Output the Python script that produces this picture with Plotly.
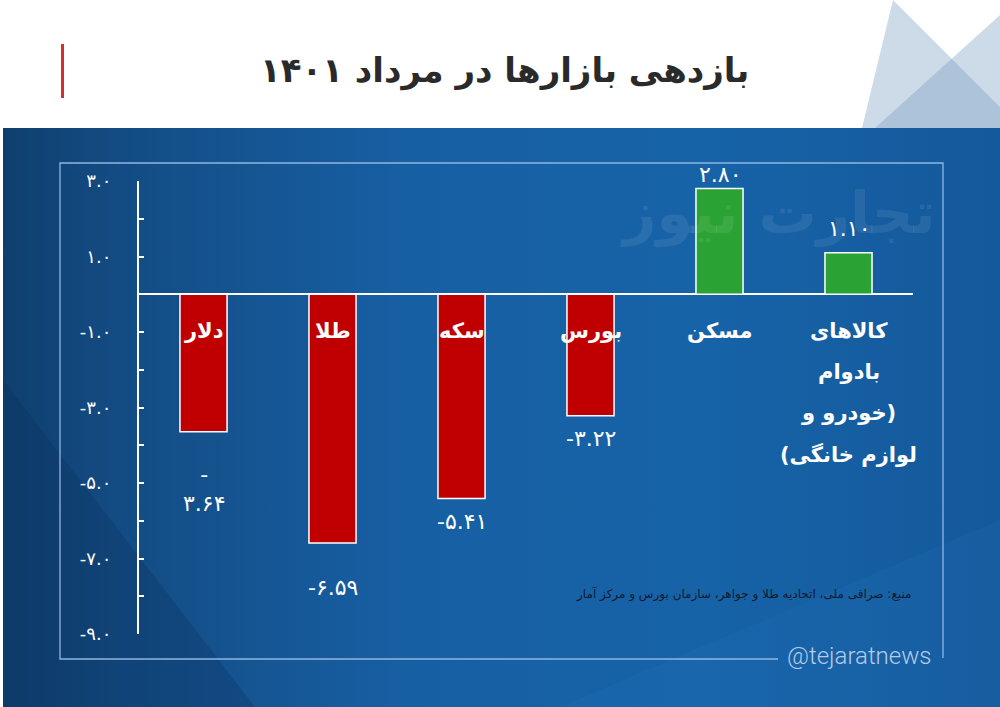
import base64
import plotly.graph_objects as go

# ---------------- data ----------------
categories = ["دلار", "طلا", "سکه", "بورس", "مسکن", "کالاهای<br>بادوام<br>(خودرو و<br>لوازم خانگی)"]
returns = [-3.64, -6.59, -5.41, -3.22, 2.80, 1.10]
y_ticks = list(range(-9, 4))
title_text = "بازدهی بازارها در مرداد ۱۴۰۱"
source_text = "منبع: صرافی ملی، اتحادیه طلا و جواهر، سازمان بورس و مرکز آمار"
handle_text = "@tejaratnews"
watermark_text = "تجارت نیوز"

# ---------------- style ----------------
W, H = 1000, 707
ML, MR, MT, MB = 139, 87, 181, 73
PW, PH = W - ML - MR, H - MT - MB
RED, GREEN = "#c00000", "#2ba334"
AR_FONT = "DejaVu Sans"
label_gap = [28, 30, 9, 8, 0, 10]      # px gap between bar end and value label
wrapped_label = {0}                     # value label split on two lines (as in original)
RLM = "\u200F"

FA = str.maketrans("0123456789", "۰۱۲۳۴۵۶۷۸۹")


def fa(s):
    return s.translate(FA)


def rtl(s):
    return RLM + s + RLM


# background artwork (no text)
svg = f"""<svg xmlns='http://www.w3.org/2000/svg' width='{W}' height='{H}' viewBox='0 0 {W} {H}'>
<defs>
<linearGradient id='g' x1='0' y1='0' x2='1' y2='0'>
<stop offset='0' stop-color='#0f3f6e'/>
<stop offset='0.12' stop-color='#134c84'/>
<stop offset='0.4' stop-color='#175fa3'/>
<stop offset='0.7' stop-color='#1763a8'/>
<stop offset='1' stop-color='#14599b'/>
</linearGradient>
</defs>
<rect x='0' y='0' width='{W}' height='{H}' fill='#ffffff'/>
<polygon points='893,0 1000,107 1000,128 862,128' fill='#6f97c0' fill-opacity='0.35'/>
<polygon points='1000,15 1000,128 875,128' fill='#6f97c0' fill-opacity='0.35'/>
<rect x='3' y='128' width='997' height='579' fill='url(#g)'/>
<polygon points='3,380 3,707 255,707' fill='#0a305a' fill-opacity='0.28'/>
<polygon points='560,707 1000,520 1000,707' fill='#2a78c0' fill-opacity='0.15'/>
<rect x='61' y='44' width='3' height='54' fill='#d3302f'/>
<path d='M778 659 L60 659 L60 163 L943 163 L943 658' stroke='#8fb6e2' stroke-width='1.3' fill='none'/>
</svg>"""
bg_uri = "data:image/svg+xml;base64," + base64.b64encode(svg.encode("utf-8")).decode("ascii")

x_idx = list(range(len(categories)))
colors = [RED if v < 0 else GREEN for v in returns]

fig = go.Figure()
fig.add_trace(go.Bar(
    x=x_idx, y=returns, width=0.365,
    marker=dict(color=colors, line=dict(color="white", width=1.5)),
    hoverinfo="skip", showlegend=False,
))

ann = []
# watermark
ann.append(dict(x=4.45, y=2.15, xref="x", yref="y", text=rtl(watermark_text), showarrow=False,
                font=dict(family=AR_FONT, size=58, color="rgba(255,255,255,0.08)", weight="bold"),
                xanchor="center", yanchor="middle"))
# category labels
for i, c in enumerate(categories):
    for j, line in enumerate(c.split("<br>")):
        ann.append(dict(x=i, y=0, xref="x", yref="y", text=rtl(line), showarrow=False,
                        font=dict(family=AR_FONT, size=21, color="white", weight="bold"),
                        xanchor="center", yanchor="middle", yshift=-37 - 41 * j))
# value labels
for i, v in enumerate(returns):
    s = fa(f"{v:.2f}")
    if i in wrapped_label:
        s = s.replace("-", "-<br>", 1)
    if v < 0:
        ann.append(dict(x=i, y=v, xref="x", yref="y", text=s, showarrow=False,
                        font=dict(family=AR_FONT, size=22, color="white"),
                        xanchor="center", yanchor="top", yshift=-label_gap[i]))
    else:
        ann.append(dict(x=i, y=v, xref="x", yref="y", text=s, showarrow=False,
                        font=dict(family=AR_FONT, size=22, color="white"),
                        xanchor="center", yanchor="bottom", yshift=label_gap[i]))
# title
ann.append(dict(x=(504 - ML) / PW, y=1 + (MT - 70) / PH, xref="paper", yref="paper",
                text=title_text, showarrow=False,
                font=dict(family=AR_FONT, size=34, color="#2a2a2a", weight="bold"),
                xanchor="center", yanchor="middle"))
# source
ann.append(dict(x=1.0, y=(PH + MT - 594) / PH, xref="paper", yref="paper",
                text=rtl(source_text), showarrow=False,
                font=dict(family=AR_FONT, size=12, color="#101a30"),
                xanchor="right", yanchor="middle"))
# handle
ann.append(dict(x=(934 - ML) / PW, y=(PH + MT - 656) / PH, xref="paper", yref="paper",
                text=handle_text, showarrow=False,
                font=dict(family="Roboto", size=24, color="#b5cce8", weight=300),
                xanchor="right", yanchor="middle"))

tick_text = [fa(f"{v:.1f}") if v % 2 != 0 else "" for v in y_ticks]

fig.update_layout(
    width=W, height=H,
    margin=dict(l=ML, r=MR, t=MT, b=MB, pad=0),
    paper_bgcolor="white", plot_bgcolor="rgba(0,0,0,0)",
    images=[dict(source=bg_uri, xref="paper", yref="paper",
                 x=-ML / PW, y=1 + MT / PH, sizex=W / PW, sizey=H / PH,
                 xanchor="left", yanchor="top", sizing="stretch", layer="below")],
    xaxis=dict(range=[-0.5, len(categories) - 0.5], showticklabels=False, showgrid=False,
               zeroline=False, showline=False, ticks=""),
    yaxis=dict(range=[y_ticks[0], y_ticks[-1]], tickvals=y_ticks, ticktext=tick_text,
               ticks="inside", ticklen=5, tickwidth=2, tickcolor="white",
               showline=True, linecolor="white", linewidth=2,
               showgrid=False, zeroline=True, zerolinecolor="white", zerolinewidth=1.5,
               tickfont=dict(family=AR_FONT, size=18, color="white"),
               ticklabelstandoff=22),
    annotations=ann,
)

fig.write_html("out.html")
